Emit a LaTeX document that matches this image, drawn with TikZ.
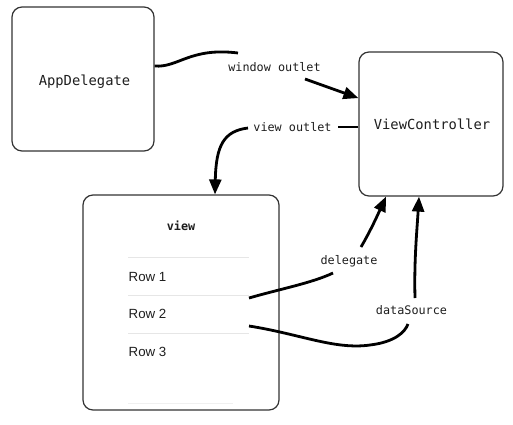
\documentclass[tikz,border=0pt]{standalone}
\usepackage{fontspec}
\setmainfont{Liberation Sans}
\setmonofont{DejaVu Sans Mono}
\usetikzlibrary{arrows.meta}
\definecolor{ink}{HTML}{1E1E1E}
\definecolor{boxline}{HTML}{333333}
\definecolor{sep}{HTML}{E6E6E6}
\tikzset{
  box/.style={draw=boxline, line width=1.2pt, rounded corners=10pt, fill=white},
  boxtext/.style={font=\ttfamily\fontsize{13.8}{16}\selectfont, text=ink},
  lbl/.style={font=\ttfamily\fontsize{11.8}{14}\selectfont, text=ink, inner sep=0pt},
  rowtext/.style={font=\fontsize{13.3}{15}\selectfont, text=ink, anchor=west, inner sep=0pt},
  conn/.style={line width=2.8pt, draw=black},
  tip/.style={-{Triangle[length=15pt,width=12pt]}},
  sepline/.style={draw=sep, line width=0.9pt}
}
\begin{document}
\begin{tikzpicture}[x=1pt,y=-1pt]
\useasboundingbox (0,0) rectangle (513,424);
\fill[white] (0,0) rectangle (513,424);
% boxes
\node[box, minimum width=142pt, minimum height=144pt] (app) at (83,79) {};
\node[boxtext] (apptext) at (84.5,82) {AppDelegate};
\node[box, minimum width=144pt, minimum height=144pt] (vc) at (431,124) {};
\node[boxtext] (vctext) at (432,124) {ViewController};
\node[box, minimum width=196pt, minimum height=215pt] (viewbox) at (181,302.5) {};
\node[lbl, font=\ttfamily\bfseries\fontsize{11.8}{14}\selectfont] (viewtitle) at (181,226) {view};
% row separators
\draw[sepline] (128,257) coordinate (s1a) -- (249,257) coordinate (s1b);
\draw[sepline] (128,295) coordinate (s2a) -- (249,295) coordinate (s2b);
\draw[sepline] (128,333) coordinate (s3a) -- (249,333) coordinate (s3b);
\draw[draw=sep!60, line width=0.9pt] (128,403) coordinate (s4a) -- (233,403) coordinate (s4b);
\node[rowtext] (row1) at (128.5,276.5) {Row 1};
\node[rowtext] (row2) at (128.5,314) {Row 2};
\node[rowtext] (row3) at (128.5,352) {Row 3};
% labels
\node[lbl] (wl) at (274.5,67) {window outlet};
\node[lbl] (vl) at (292.5,127) {view outlet};
\node[lbl] (dl) at (349,261) {delegate};
\node[lbl] (ds) at (411.5,310) {dataSource};
% gap coordinates around labels
\coordinate (wl-in) at (238,53);
\coordinate (wl-out) at (305,79);
\coordinate (vl-in) at (338,127);
\coordinate (vl-out) at (248,128);
\coordinate (dl-in) at (333,273);
\coordinate (dl-out) at (361,247);
\coordinate (d-start) at (249,298);
\coordinate (ds-start) at (249,326);
\coordinate (ds-low) at (370,345);
\coordinate (ds-in) at (408,324);
\coordinate (ds-out) at (415,298);
% window outlet
\draw[conn] ([yshift=13pt]app.east) .. controls (178,68) and (190,47) .. (wl-in);
\draw[conn,tip] (wl-out) -- (vc);
% view outlet
\draw[conn] ([yshift=-3pt]vc.west) -- (vl-in);
\draw[conn,tip] (vl-out) .. controls (224,131) and (216,145) .. ([xshift=34pt]viewbox.north);
% delegate
\draw[conn] (d-start) .. controls (280,289) and (312,283) .. (dl-in);
\draw[conn,tip] (dl-out) .. controls (371,230) and (379,212) .. ([xshift=-45pt]vc.south);
% dataSource
\draw[conn] (ds-start) .. controls (300,334) and (335,350) .. (ds-low) .. controls (395,342) and (405,332) .. (ds-in);
\draw[conn,tip] (ds-out) .. controls (414,260) and (417,230) .. ([xshift=-12pt]vc.south);
\end{tikzpicture}
\end{document}
